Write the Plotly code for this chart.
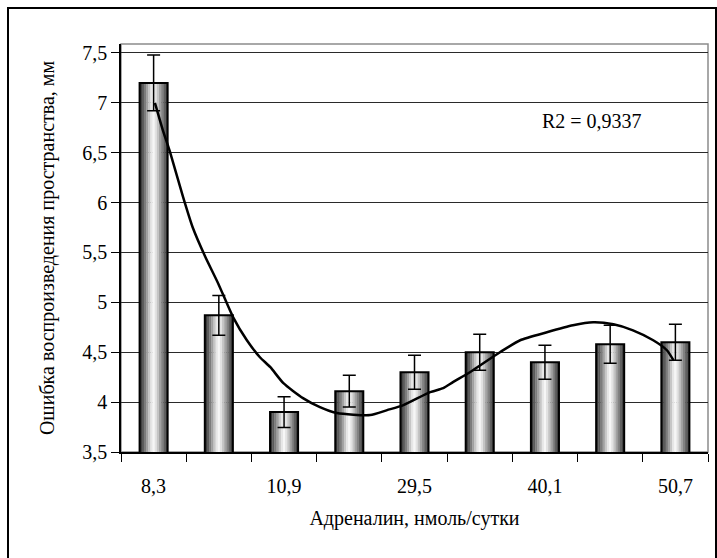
import plotly.graph_objects as go

# ---- data ----
categories = ["8,3", "", "10,9", "", "29,5", "", "40,1", "", "50,7"]
values = [7.20, 4.87, 3.90, 4.11, 4.30, 4.50, 4.40, 4.58, 4.60]
errors = [0.28, 0.20, 0.155, 0.16, 0.17, 0.18, 0.17, 0.19, 0.18]
trend_x = [0.02, 0.14, 0.25, 0.45, 0.60, 0.79, 0.99, 1.22, 1.43, 1.63, 1.79, 1.99,
           2.29, 2.55, 2.81, 3.32, 3.58, 3.83, 4.24, 4.44, 4.59, 4.85, 5.01, 5.31,
           5.62, 6.03, 6.43, 6.74, 7.05, 7.35, 7.66, 7.87, 7.97]
trend_y = [7.00, 6.73, 6.51, 6.06, 5.75, 5.46, 5.19, 4.85, 4.62, 4.45, 4.35, 4.19,
           4.04, 3.95, 3.89, 3.87, 3.92, 3.97, 4.10, 4.14, 4.20, 4.30, 4.37, 4.50,
           4.62, 4.70, 4.77, 4.80, 4.78, 4.72, 4.62, 4.52, 4.42]
y_ticks = [3.5, 4, 4.5, 5, 5.5, 6, 6.5, 7, 7.5]
y_ticktext = ["3,5", "4", "4,5", "5", "5,5", "6", "6,5", "7", "7,5"]
r2_text = "R2 = 0,9337"
x_title = "Адреналин, нмоль/сутки"
y_title = "Ошибка воспроизведения пространства, мм"

# cylinder-like shading strips (left -> right)
strip_colors = ["#3a3a3a", "#5a5a5a", "#7c7c7c", "#a0a0a0", "#c6c6c6", "#e6e6e6",
                "#f6f6f6", "#e2e2e2", "#c4c4c4", "#a2a2a2", "#828282", "#606060", "#404040"]

FONT = "Liberation Serif"
FS = 20
idx = list(range(len(values)))
bar_w = 0.43
n = len(strip_colors)

fig = go.Figure()
for k, c in enumerate(strip_colors):
    fig.add_trace(go.Bar(
        x=idx, y=values, width=bar_w / n * 1.15,
        offset=-bar_w / 2 + k * bar_w / n,
        marker=dict(color=c, line=dict(width=0)),
        hoverinfo="skip", showlegend=False))

fig.add_trace(go.Bar(
    x=idx, y=values, width=bar_w,
    marker=dict(color="rgba(0,0,0,0)", line=dict(color="black", width=2)),
    error_y=dict(type="data", array=errors, visible=True, color="black",
                 thickness=1.5, width=6.5),
    showlegend=False))

fig.add_trace(go.Scatter(
    x=trend_x, y=trend_y, mode="lines",
    line=dict(color="black", width=2.5, shape="spline", smoothing=0.6),
    showlegend=False, hoverinfo="skip"))

W, H = 717, 558
L, R, T, B = 121, 9, 44, 106
pw, ph = W - L - R, H - T - B

def px_x(p):
    return (p - L) / pw

def px_y(p):
    return (H - B - p) / ph

fig.update_layout(
    width=W, height=H,
    margin=dict(l=L, r=R, t=T, b=B),
    paper_bgcolor="white", plot_bgcolor="white",
    barmode="overlay",
    font=dict(family=FONT, size=FS, color="black"),
    xaxis=dict(
        range=[-0.5, 8.5], tickmode="array", tickvals=idx, ticktext=categories,
        ticks="", showgrid=False, zeroline=False,
        showline=True, linecolor="black", linewidth=1.5,
        tickfont=dict(family=FONT, size=FS),
        ticklabelstandoff=15,
        minor=dict(tickmode="array", tickvals=[i - 0.5 for i in range(len(values) + 1)],
                   ticks="outside", ticklen=8, tickcolor="black", tickwidth=1, showgrid=False),
        title=dict(text=x_title, font=dict(family=FONT, size=FS), standoff=15),
        automargin=False, fixedrange=True),
    yaxis=dict(
        range=[3.5, 7.59], tickmode="array", tickvals=y_ticks, ticktext=y_ticktext,
        ticks="outside", ticklen=8, tickcolor="black", tickwidth=1,
        showgrid=True, gridcolor="#2a2a2a", gridwidth=1, zeroline=False,
        showline=True, linecolor="black", linewidth=1.5,
        tickfont=dict(family=FONT, size=FS),
        title=dict(text=y_title, font=dict(family=FONT, size=FS), standoff=22),
        automargin=False, fixedrange=True),
    annotations=[dict(text=r2_text, x=5.93, y=6.82, xref="x", yref="y",
                      xanchor="left", yanchor="middle", showarrow=False,
                      font=dict(family=FONT, size=FS))],
    shapes=[
        # plot-area border (gray)
        dict(type="rect", xref="paper", yref="paper", x0=0, x1=1, y0=0, y1=1,
             line=dict(color="#8c8c8c", width=1.5), layer="below"),
        # outer chart frame
        dict(type="rect", xref="paper", yref="paper",
             x0=px_x(8), x1=px_x(716), y0=px_y(565), y1=px_y(8),
             line=dict(color="black", width=2)),
    ],
)

fig.write_html("out.html")
